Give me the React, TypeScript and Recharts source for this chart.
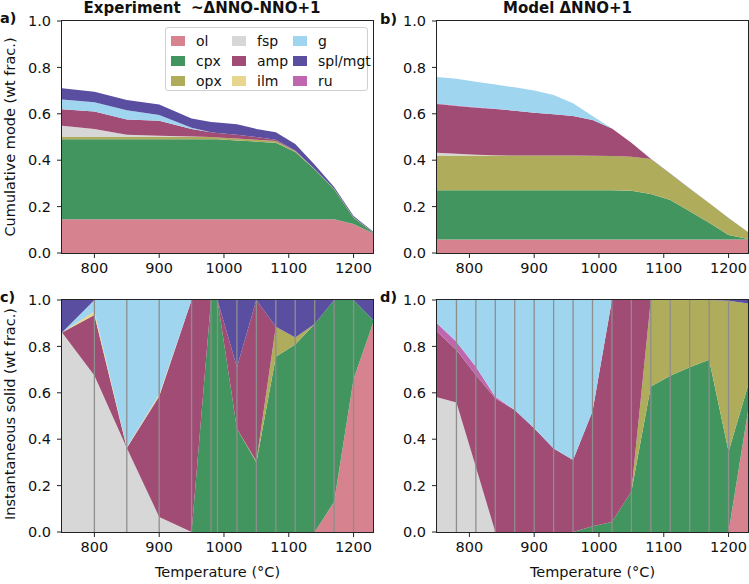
import React from "react";
import { Area, AreaChart, ReferenceLine, XAxis, YAxis } from "recharts";

// phase order from the bottom of each stack upward
const phases = ["ol", "cpx", "opx", "fsp", "amp", "ilm", "ru", "g", "spl"];

const phaseLabels: Record<string, string> = {
    ol: "ol",
    cpx: "cpx",
    opx: "opx",
    fsp: "fsp",
    amp: "amp",
    ilm: "ilm",
    g: "g",
    spl: "spl/mgt",
    ru: "ru",
};

const phaseColors: Record<string, string> = {
    ol: "#d6838f",
    cpx: "#42955f",
    opx: "#afad5c",
    fsp: "#d7d7d7",
    amp: "#a04c74",
    ilm: "#e8d68e",
    g: "#a0d5f0",
    spl: "#5a4ea1",
    ru: "#bf66af",
};

// legend is laid out column by column, three rows
const legendColumns = [
    ["ol", "cpx", "opx"],
    ["fsp", "amp", "ilm"],
    ["g", "spl", "ru"],
];

const expTemps = [750, 800, 850, 900, 950, 980, 990, 1020, 1050, 1080, 1110, 1140, 1170, 1200, 1230];
const modelTemps = [750, 780, 810, 840, 870, 900, 930, 960, 990, 1020, 1050, 1080, 1110, 1140, 1170, 1200, 1230];

const tempTicks = [800, 900, 1000, 1100, 1200];
const fracTicks = [0, 0.2, 0.4, 0.6, 0.8, 1.0];

// experiment, cumulative mode
const expCumulative: Record<string, number[]> = {
    ol: [0.145, 0.145, 0.145, 0.145, 0.145, 0.145, 0.145, 0.145, 0.145, 0.145, 0.145, 0.145, 0.145, 0.125, 0.085],
    cpx: [0.345, 0.345, 0.345, 0.345, 0.345, 0.345, 0.345, 0.34, 0.335, 0.33, 0.29, 0.215, 0.13, 0.027, 0.003],
    opx: [0.01, 0.01, 0.01, 0.01, 0.01, 0.01, 0.008, 0.008, 0.008, 0.008, 0.005, 0.002, 0.002, 0.002, 0.001],
    fsp: [0.048, 0.035, 0.01, 0.005, 0.002, 0, 0, 0, 0, 0, 0, 0, 0, 0, 0],
    amp: [0.072, 0.075, 0.065, 0.065, 0.033, 0.02, 0.019, 0.017, 0.012, 0.005, 0.002, 0, 0, 0, 0],
    ilm: [0, 0, 0, 0, 0, 0, 0, 0, 0, 0, 0, 0, 0, 0, 0],
    ru: [0, 0, 0, 0, 0, 0, 0, 0, 0, 0, 0, 0, 0, 0, 0],
    g: [0.042, 0.04, 0.04, 0.025, 0.005, 0, 0, 0, 0, 0, 0, 0, 0, 0, 0],
    spl: [0.048, 0.045, 0.045, 0.045, 0.04, 0.045, 0.045, 0.045, 0.035, 0.032, 0.028, 0.018, 0.008, 0.006, 0.004],
};

// model, cumulative mode
const modelCumulative: Record<string, number[]> = {
    ol: [0.058, 0.058, 0.058, 0.058, 0.058, 0.058, 0.058, 0.058, 0.058, 0.058, 0.058, 0.058, 0.058, 0.058, 0.058, 0.058, 0.058],
    cpx: [0.212, 0.212, 0.212, 0.212, 0.212, 0.212, 0.212, 0.212, 0.212, 0.212, 0.21, 0.196, 0.17, 0.122, 0.072, 0.02, 0.002],
    opx: [0.15, 0.15, 0.15, 0.15, 0.15, 0.15, 0.15, 0.15, 0.149, 0.148, 0.147, 0.151, 0.114, 0.097, 0.085, 0.072, 0.03],
    fsp: [0.012, 0.008, 0.004, 0.001, 0, 0, 0, 0, 0, 0, 0, 0, 0, 0, 0, 0, 0],
    amp: [0.21, 0.206, 0.202, 0.2, 0.193, 0.185, 0.178, 0.17, 0.154, 0.119, 0.06, 0, 0, 0, 0, 0, 0],
    ilm: [0, 0, 0, 0, 0, 0, 0, 0, 0, 0, 0, 0, 0, 0, 0, 0, 0],
    ru: [0.002, 0.002, 0.002, 0.001, 0, 0, 0, 0, 0, 0, 0, 0, 0, 0, 0, 0, 0],
    g: [0.115, 0.115, 0.11, 0.104, 0.101, 0.095, 0.083, 0.055, 0.017, 0, 0, 0, 0, 0, 0, 0, 0],
    spl: [0, 0, 0, 0, 0, 0, 0, 0, 0, 0, 0, 0.001, 0.001, 0.001, 0.001, 0.001, 0.001],
};

// experiment, instantaneous solid
const expInstant: Record<string, number[]> = {
    ol: [0, 0, 0, 0, 0, 0, 0, 0, 0, 0, 0, 0, 0.13, 0.66, 0.9],
    cpx: [0, 0, 0, 0, 0, 1, 1, 0.445, 0.3, 0.755, 0.808, 0.897, 0.87, 0.34, 0.014],
    opx: [0, 0, 0, 0, 0, 0, 0, 0, 0.005, 0.13, 0.03, 0, 0, 0, 0],
    fsp: [0.86, 0.675, 0.362, 0.065, 0, 0, 0, 0, 0, 0, 0, 0, 0, 0, 0],
    amp: [0, 0.26, 0, 0.52, 1, 0, 0, 0.265, 0.695, 0, 0, 0, 0, 0, 0],
    ilm: [0, 0.015, 0.003, 0.008, 0, 0, 0, 0, 0, 0, 0, 0, 0, 0, 0],
    ru: [0, 0, 0, 0, 0, 0, 0, 0, 0, 0, 0, 0, 0, 0, 0],
    g: [0, 0.05, 0.635, 0.407, 0, 0, 0, 0, 0, 0, 0, 0, 0, 0, 0],
    spl: [0.14, 0, 0, 0, 0, 0, 0, 0.29, 0, 0.115, 0.162, 0.103, 0, 0, 0.086],
};

// model, instantaneous solid
const modelInstant: Record<string, number[]> = {
    ol: [0, 0, 0, 0, 0, 0, 0, 0, 0, 0, 0, 0, 0, 0, 0, 0, 0.52],
    cpx: [0, 0, 0, 0, 0, 0, 0, 0, 0.025, 0.043, 0.175, 0.627, 0.673, 0.71, 0.742, 0.347, 0.11],
    opx: [0, 0, 0, 0, 0, 0, 0, 0, 0, 0, 0, 0.373, 0.327, 0.29, 0.258, 0.65, 0.355],
    fsp: [0.581, 0.558, 0.28, 0, 0, 0, 0, 0, 0, 0, 0, 0, 0, 0, 0, 0, 0],
    amp: [0.283, 0.227, 0.397, 0.576, 0.526, 0.447, 0.36, 0.31, 0.495, 0.957, 0.825, 0, 0, 0, 0, 0, 0],
    ilm: [0, 0, 0, 0, 0, 0, 0, 0, 0, 0, 0, 0, 0, 0, 0, 0, 0],
    ru: [0.036, 0.035, 0.035, 0.007, 0, 0, 0, 0, 0, 0, 0, 0, 0, 0, 0, 0, 0],
    g: [0.1, 0.18, 0.288, 0.417, 0.474, 0.553, 0.64, 0.69, 0.48, 0, 0, 0, 0, 0, 0, 0, 0],
    spl: [0, 0, 0, 0, 0, 0, 0, 0, 0, 0, 0, 0, 0, 0, 0, 0.003, 0.015],
};

// experimental run temperatures and model steps marked in the lower panels
const expRuns = [800, 850, 900, 950, 980, 990, 1020, 1050, 1080, 1110, 1140, 1170, 1200];
const modelSteps = [780, 810, 840, 870, 900, 930, 960, 990, 1020, 1050, 1080, 1110, 1140, 1170, 1200];

const FONT = "'DejaVu Sans', sans-serif";
const FS = 14.5;

function buildRows(temps: number[], series: Record<string, number[]>) {
    return temps.map((T, i) => {
        const row: Record<string, number> = { T };
        phases.forEach((p) => {
            row[p] = series[p][i];
        });
        return row;
    });
}

type PanelProps = {
    left: number;
    top: number;
    width: number;
    height: number;
    margin: { top: number; right: number; bottom: number; left: number };
    temps: number[];
    series: Record<string, number[]>;
    marks?: number[];
};

const Panel = ({ left, top, width, height, margin, temps, series, marks }: PanelProps) => {
    const rows = buildRows(temps, series);
    const yAxisW = 30;
    const xAxisH = 24;
    const plotLeft = margin.left + yAxisW;
    const plotTop = margin.top;
    const plotW = width - plotLeft - margin.right;
    const plotH = height - plotTop - margin.bottom - xAxisH;
    const tickStyle = { fontSize: FS, fill: "#111", fontFamily: FONT };
    return (
        <div style={{ position: "absolute", left, top, width, height }}>
            <AreaChart width={width} height={height} data={rows} margin={margin}>
                <XAxis
                    dataKey="T"
                    type="number"
                    domain={[750, 1230]}
                    ticks={tempTicks}
                    height={xAxisH}
                    axisLine={false}
                    tickLine={{ stroke: "#222" }}
                    tickSize={5}
                    tickMargin={5}
                    tick={tickStyle}
                    allowDataOverflow
                />
                <YAxis
                    type="number"
                    domain={[0, 1]}
                    ticks={fracTicks}
                    width={yAxisW}
                    axisLine={false}
                    tickLine={{ stroke: "#222" }}
                    tickSize={5}
                    tickMargin={6}
                    tick={tickStyle}
                    tickFormatter={(v: number) => v.toFixed(1)}
                    allowDataOverflow
                />
                {phases.map((p) => (
                    <Area
                        key={p}
                        type="linear"
                        dataKey={p}
                        stackId="mode"
                        stroke="none"
                        fill={phaseColors[p]}
                        fillOpacity={1}
                        isAnimationActive={false}
                        dot={false}
                        activeDot={false}
                    />
                ))}
                {(marks || []).map((t) => (
                    <ReferenceLine key={t} x={t} stroke="#8e8e8e" strokeWidth={1.3} />
                ))}
            </AreaChart>
            <div
                style={{
                    position: "absolute",
                    left: plotLeft - 1,
                    top: plotTop - 1,
                    width: plotW + 2,
                    height: plotH + 2,
                    border: "1px solid #222",
                    boxSizing: "border-box",
                    pointerEvents: "none",
                }}
            />
        </div>
    );
};

const Legend = () => (
    <div
        style={{
            position: "absolute",
            left: 165,
            top: 27,
            width: 203,
            height: 64,
            boxSizing: "border-box",
            border: "1px solid #d0d0d0",
            borderRadius: 3,
            background: "rgba(255,255,255,0.85)",
            fontFamily: FONT,
            fontSize: 14,
            color: "#111",
        }}
    >
        {legendColumns.map((col, ci) =>
            col.map((p, ri) => (
                <div
                    key={p}
                    style={{
                        position: "absolute",
                        left: 5 + ci * 61,
                        top: 3 + ri * 20,
                        height: 19,
                        display: "flex",
                        alignItems: "center",
                        whiteSpace: "nowrap",
                    }}
                >
                    <span
                        style={{
                            display: "inline-block",
                            width: 14,
                            height: 10,
                            background: phaseColors[p],
                            marginRight: 11,
                        }}
                    />
                    {phaseLabels[p]}
                </div>
            ))
        )}
    </div>
);

const textBase: React.CSSProperties = {
    position: "absolute",
    fontFamily: FONT,
    color: "#111",
    whiteSpace: "pre",
    lineHeight: 1,
};

export default function App() {
    return (
        <div
            style={{
                position: "absolute",
                left: 0,
                top: 0,
                width: 749,
                height: 584,
                background: "#fff",
                overflow: "hidden",
            }}
        >
            <Panel
                left={0}
                top={0}
                width={380}
                height={280}
                margin={{ top: 21, right: 7, bottom: 3, left: 32 }}
                temps={expTemps}
                series={expCumulative}
            />
            <Panel
                left={380}
                top={0}
                width={369}
                height={280}
                margin={{ top: 21, right: 1, bottom: 3, left: 27 }}
                temps={modelTemps}
                series={modelCumulative}
            />
            <Panel
                left={0}
                top={280}
                width={380}
                height={280}
                margin={{ top: 20, right: 7, bottom: 4, left: 32 }}
                temps={expTemps}
                series={expInstant}
                marks={expRuns}
            />
            <Panel
                left={380}
                top={280}
                width={369}
                height={280}
                margin={{ top: 20, right: 1, bottom: 4, left: 27 }}
                temps={modelTemps}
                series={modelInstant}
                marks={modelSteps}
            />
            <Legend />

            <div style={{ ...textBase, left: 0, width: 404, top: 1, textAlign: "center", fontSize: 15, fontWeight: "bold" }}>
                {"Experiment  ~ΔNNO-NNO+1"}
            </div>
            <div style={{ ...textBase, left: 437, width: 261, top: 1, textAlign: "center", fontSize: 15, fontWeight: "bold" }}>
                {"Model ΔNNO+1"}
            </div>

            <div style={{ ...textBase, left: 0, top: 11, fontSize: FS, fontWeight: "bold" }}>a)</div>
            <div style={{ ...textBase, left: 380, top: 12, fontSize: FS, fontWeight: "bold" }}>b)</div>
            <div style={{ ...textBase, left: 0, top: 290, fontSize: FS, fontWeight: "bold" }}>c)</div>
            <div style={{ ...textBase, left: 380, top: 290, fontSize: FS, fontWeight: "bold" }}>d)</div>

            <div
                style={{
                    ...textBase,
                    left: 10,
                    top: 137,
                    fontSize: FS,
                    transform: "translate(-50%, -50%) rotate(-90deg)",
                }}
            >
                Cumulative mode (wt frac.)
            </div>
            <div
                style={{
                    ...textBase,
                    left: 10,
                    top: 414,
                    fontSize: FS,
                    transform: "translate(-50%, -50%) rotate(-90deg)",
                }}
            >
                Instantaneous solid (wt frac.)
            </div>

            <div style={{ ...textBase, left: 62, width: 311, top: 565, textAlign: "center", fontSize: FS }}>
                Temperature (°C)
            </div>
            <div style={{ ...textBase, left: 437, width: 311, top: 565, textAlign: "center", fontSize: FS }}>
                Temperature (°C)
            </div>
        </div>
    );
}
